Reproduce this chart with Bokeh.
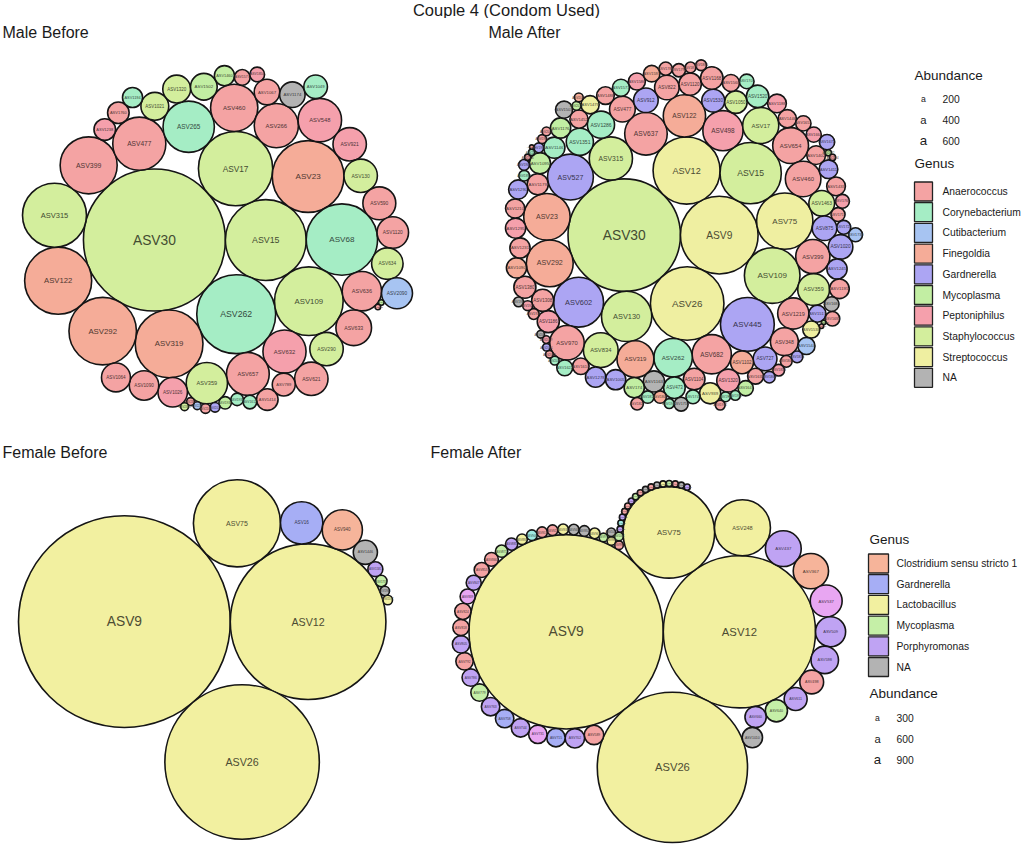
import math
from bokeh.plotting import figure
from bokeh.models import ColumnDataSource, Range1d, Label
from bokeh.layouts import column, row
from bokeh.embed import file_html
from bokeh.resources import INLINE
from bokeh.core.properties import value

FONT = "Liberation Sans"
TITLE = "Couple 4 (Condom Used)"

# ---------------- data ----------------
MALE_GENERA = ["Anaerococcus", "Corynebacterium", "Cutibacterium", "Finegoldia", "Gardnerella",
               "Mycoplasma", "Peptoniphilus", "Staphylococcus", "Streptococcus", "NA"]
MALE_COLORS = ["#F4A3A3", "#A5EDC5", "#A7C4F2", "#F5AC98", "#ACA5F3",
               "#C2EEA3", "#F5A0AC", "#D3EE9D", "#EFEFA1", "#B3B3B3"]
MALE_BREAKS = [200, 400, 600]

FEMALE_GENERA = ["Clostridium sensu stricto 1", "Gardnerella", "Lactobacillus", "Mycoplasma",
                 "Porphyromonas", "NA"]
FEMALE_COLORS = ["#F6B49A", "#A6AEF5", "#F2F0A0", "#C5EFA7", "#BFA3F3", "#B3B3B3"]
FEMALE_EXTRA_GENERA = ["Peptoniphilus", "Prevotella", "Corynebacterium"]
FEMALE_EXTRA_COLORS = ["#F4A3A3", "#E8A6F2", "#9FE9E1"]
FEMALE_BREAKS = [300, 600, 900]

MB_ASV = ["ASV30", "ASV15", "ASV262", "ASV17", "ASV23", "ASV68", "ASV109", "ASV319", "ASV292", "ASV122",
          "ASV315", "ASV399", "ASV477", "ASV265", "ASV460", "ASV548", "ASV266", "ASV632", "ASV657", "ASV359",
          "ASV636", "ASV633", "ASV290", "ASV621", "ASV921", "ASV590", "ASV130", "ASV1120", "ASV634", "ASV2090",
          "ASV1026", "ASV1090", "ASV1064", "ASV1021", "ASV1320", "ASV1502", "ASV1067", "ASV1174", "ASV1049", "ASV789",
          "ASV1414", "ASV1238", "ASV1760", "ASV1194", "ASV1460", "ASV1577", "ASV1612", "ASV1850", "ASV1931", "ASV1932",
          "ASV2011", "ASV2107", "ASV2205", "ASV2310", "ASV2398", "ASV2471", "ASV2503"]
MB_ABUND = [650, 211, 201, 178, 166, 164, 152, 148, 147, 145,
            132, 105, 91, 85, 72, 61, 63, 60, 59, 55,
            50, 41, 36, 36, 36, 35, 36, 32, 32, 31,
            28, 28, 27, 25, 25, 23, 21, 21, 18, 17,
            15, 15, 15, 13, 13, 8, 6, 7, 5, 5,
            3, 3, 2, 2, 2, 1, 1]
MB_GENUS = ["Staphylococcus", "Staphylococcus", "Corynebacterium", "Staphylococcus", "Finegoldia",
            "Corynebacterium", "Staphylococcus", "Finegoldia", "Finegoldia", "Finegoldia",
            "Staphylococcus", "Anaerococcus", "Anaerococcus", "Corynebacterium", "Anaerococcus",
            "Peptoniphilus", "Anaerococcus", "Peptoniphilus", "Anaerococcus", "Staphylococcus",
            "Anaerococcus", "Anaerococcus", "Staphylococcus", "Anaerococcus", "Peptoniphilus",
            "Anaerococcus", "Staphylococcus", "Anaerococcus", "Staphylococcus", "Cutibacterium",
            "Peptoniphilus", "Anaerococcus", "Anaerococcus", "Staphylococcus", "Staphylococcus",
            "Mycoplasma", "Anaerococcus", "NA", "Corynebacterium", "Anaerococcus",
            "Anaerococcus", "Peptoniphilus", "Anaerococcus", "Corynebacterium", "Mycoplasma",
            "Anaerococcus", "Corynebacterium", "Peptoniphilus", "Corynebacterium", "Mycoplasma",
            "Gardnerella", "Anaerococcus", "Cutibacterium", "Anaerococcus", "Staphylococcus",
            "Mycoplasma", "Anaerococcus"]

MA_ASV = ["ASV30", "ASV9", "ASV26", "ASV12", "ASV15", "ASV75", "ASV109", "ASV445", "ASV602", "ASV130",
          "ASV527", "ASV292", "ASV23", "ASV637", "ASV122", "ASV315", "ASV498", "ASV682", "ASV262", "ASV319",
          "ASV17", "ASV654", "ASV460", "ASV834", "ASV970", "ASV399", "ASV359", "ASV1219", "ASV348", "ASV1351",
          "ASV1286", "ASV477", "ASV1463", "ASV875", "ASV1020", "ASV912", "ASV822", "ASV727", "ASV1102", "ASV1320",
          "ASV1530", "ASV1050", "ASV1520", "ASV1120", "ASV1168", "ASV1186", "ASV1308", "ASV1380", "ASV1104", "ASV473",
          "ASV1163", "ASV939", "ASV1179", "ASV1095", "ASV1146", "ASV1176", "ASV174", "ASV1005", "ASV1278", "ASV1090",
          "ASV1231", "ASV1295", "ASV1245", "ASV1195", "ASV1210", "ASV1290", "ASV1402", "ASV1411", "ASV1433", "ASV1188",
          "ASV1446", "ASV1452", "ASV1479", "ASV1488", "ASV1503", "ASV1517", "ASV1538", "ASV1544", "ASV1560", "ASV1571",
          "ASV1586", "ASV1593", "ASV1610", "ASV1622", "ASV1635", "ASV1647", "ASV1651", "ASV1664", "ASV1672", "ASV1688",
          "ASV1693", "ASV1705", "ASV1719", "ASV1722", "ASV1738", "ASV1745", "ASV1759", "ASV1761", "ASV1780", "ASV1792",
          "ASV1804", "ASV1815", "ASV1827", "ASV1833", "ASV1846", "ASV1858", "ASV1869", "ASV1872", "ASV1885", "ASV1897",
          "ASV1903", "ASV1916", "ASV1924", "ASV1937", "ASV1941", "ASV1955", "ASV1968", "ASV1972", "ASV1986", "ASV1990",
          "ASV2004", "ASV2017", "ASV2023", "ASV2036", "ASV2048", "ASV2051", "ASV2069", "ASV2075", "ASV2082", "ASV2094",
          "ASV2106", "ASV2117", "ASV2129", "ASV2133", "ASV2146"]
MA_ABUND = [650, 310, 278, 231, 193, 163, 159, 149, 128, 130,
            108, 113, 111, 93, 92, 96, 83, 79, 76, 70,
            67, 66, 65, 62, 61, 60, 52, 50, 40, 38,
            38, 34, 34, 31, 31, 31, 31, 29, 27, 27,
            27, 26, 26, 26, 26, 25, 25, 25, 24, 24,
            23, 23, 23, 23, 23, 21, 21, 21, 21, 21,
            21, 21, 21, 20, 19, 19, 18, 18, 18, 18,
            17, 17, 17, 16, 15, 15, 15, 15, 15, 15,
            15, 14, 14, 13, 13, 12, 12, 12, 12, 11,
            11, 11, 10, 10, 10, 10, 10, 10, 9, 9,
            8, 8, 8, 7, 7, 7, 7, 6, 6, 6,
            6, 6, 5, 5, 5, 5, 5, 5, 5, 4,
            4, 4, 4, 4, 3, 3, 3, 3, 2, 2,
            2, 2, 1, 1, 1]
MA_GENUS = ["Staphylococcus", "Streptococcus", "Streptococcus", "Streptococcus", "Staphylococcus",
            "Streptococcus", "Staphylococcus", "Gardnerella", "Gardnerella", "Staphylococcus",
            "Gardnerella", "Finegoldia", "Finegoldia", "Anaerococcus", "Finegoldia",
            "Staphylococcus", "Peptoniphilus", "Anaerococcus", "Corynebacterium", "Finegoldia",
            "Staphylococcus", "Anaerococcus", "Anaerococcus", "Staphylococcus", "Anaerococcus",
            "Anaerococcus", "Staphylococcus", "Anaerococcus", "Anaerococcus", "Corynebacterium",
            "Corynebacterium", "Anaerococcus", "Staphylococcus", "Gardnerella", "Gardnerella",
            "Gardnerella", "Anaerococcus", "Gardnerella", "Finegoldia", "Peptoniphilus",
            "Gardnerella", "Staphylococcus", "Corynebacterium", "Anaerococcus", "Anaerococcus",
            "Peptoniphilus", "Anaerococcus", "Anaerococcus", "Anaerococcus", "Corynebacterium",
            "NA", "Streptococcus", "Anaerococcus", "Mycoplasma", "Corynebacterium",
            "Mycoplasma", "Mycoplasma", "Gardnerella", "Gardnerella", "Finegoldia",
            "Anaerococcus", "Peptoniphilus", "Gardnerella", "Anaerococcus", "Anaerococcus",
            "Gardnerella", "Anaerococcus", "Gardnerella", "Anaerococcus", "Peptoniphilus",
            "Anaerococcus", "Anaerococcus", "Streptococcus", "Anaerococcus", "NA",
            "Gardnerella", "Streptococcus", "Cutibacterium", "Anaerococcus", "Corynebacterium",
            "Peptoniphilus", "Finegoldia", "Anaerococcus", "Corynebacterium", "Anaerococcus",
            "Mycoplasma", "Anaerococcus", "Peptoniphilus", "Gardnerella", "NA",
            "Anaerococcus", "Corynebacterium", "Anaerococcus", "Gardnerella", "Cutibacterium",
            "Corynebacterium", "NA", "Peptoniphilus", "Anaerococcus", "Anaerococcus",
            "Finegoldia", "Corynebacterium", "Anaerococcus", "Gardnerella", "Anaerococcus",
            "Peptoniphilus", "Gardnerella", "Anaerococcus", "Anaerococcus", "Corynebacterium",
            "Gardnerella", "Anaerococcus", "Peptoniphilus", "NA", "Corynebacterium",
            "Corynebacterium", "Corynebacterium", "Anaerococcus", "Gardnerella", "Anaerococcus",
            "Anaerococcus", "Mycoplasma", "Finegoldia", "Corynebacterium", "Anaerococcus",
            "Gardnerella", "Peptoniphilus", "NA", "Mycoplasma", "Anaerococcus",
            "Anaerococcus", "Corynebacterium", "Anaerococcus", "Mycoplasma", "Anaerococcus"]

FB_ASV = ["ASV9", "ASV12", "ASV26", "ASV75", "ASV16", "ASV940", "ASV1446", "ASV1581", "ASV1733", "ASV1902", "ASV2077"]
FB_ABUND = [1000, 540, 532, 169, 40, 36, 13, 5, 3, 2, 2]
FB_GENUS = ["Lactobacillus", "Lactobacillus", "Lactobacillus", "Lactobacillus", "Gardnerella",
            "Clostridium sensu stricto 1", "NA", "Porphyromonas", "Mycoplasma", "NA", "Lactobacillus"]

FA_ASV = ["ASV9", "ASV12", "ASV26", "ASV75", "ASV248", "ASV437", "ASV367", "ASV537", "ASV509", "ASV598",
          "ASV498", "ASV611", "ASV640", "ASV660", "ASV1010", "ASV589", "ASV702", "ASV715", "ASV731", "ASV744",
          "ASV758", "ASV763", "ASV779", "ASV786", "ASV792", "ASV805", "ASV818", "ASV824", "ASV839", "ASV847",
          "ASV853", "ASV866", "ASV871", "ASV885", "ASV892", "ASV906", "ASV913", "ASV927", "ASV931", "ASV948",
          "ASV952", "ASV967", "ASV975", "ASV983", "ASV996", "ASV1004", "ASV1017", "ASV1023", "ASV1036", "ASV1048",
          "ASV1055", "ASV1069", "ASV1072", "ASV1081", "ASV1094", "ASV1108", "ASV1115", "ASV1127", "ASV1139", "ASV1142",
          "ASV1150", "ASV1163", "ASV1171"]
FA_ABUND = [1000, 614, 598, 222, 83, 34, 33, 27, 24, 20,
            15, 14, 13, 12, 11, 10, 10, 9, 9, 9,
            9, 9, 8, 8, 8, 8, 7, 7, 6, 6,
            6, 5, 4, 4, 3, 3, 3, 3, 3, 3,
            3, 3, 2, 2, 2, 2, 2, 1, 1, 1,
            1, 1, 1, 1, 1, 1, 1, 1, 1, 1,
            1, 1, 1]
FA_GENUS = ["Lactobacillus", "Lactobacillus", "Lactobacillus", "Lactobacillus", "Lactobacillus",
            "Porphyromonas", "Clostridium sensu stricto 1", "Prevotella", "Porphyromonas", "Porphyromonas",
            "Peptoniphilus", "Porphyromonas", "Mycoplasma", "Porphyromonas", "NA",
            "Peptoniphilus", "Porphyromonas", "Gardnerella", "Prevotella", "Porphyromonas",
            "Gardnerella", "Porphyromonas", "Mycoplasma", "Porphyromonas", "Peptoniphilus",
            "Porphyromonas", "Peptoniphilus", "Peptoniphilus", "Prevotella", "Porphyromonas",
            "Peptoniphilus", "Peptoniphilus", "Mycoplasma", "Porphyromonas", "Lactobacillus",
            "Corynebacterium", "Peptoniphilus", "Peptoniphilus", "Lactobacillus", "NA",
            "NA", "Lactobacillus", "Mycoplasma", "Lactobacillus", "Peptoniphilus",
            "Mycoplasma", "NA", "Porphyromonas", "Corynebacterium", "Porphyromonas",
            "Peptoniphilus", "Peptoniphilus", "Porphyromonas", "Mycoplasma", "Peptoniphilus",
            "NA", "Peptoniphilus", "NA", "Lactobacillus", "Mycoplasma",
            "Peptoniphilus", "NA", "Porphyromonas"]


# ---------------- circle packing (progressive front-chain layout) ----------------
def pack(radii):
    n = len(radii)
    xs = [0.0] * n
    ys = [0.0] * n
    if n < 2:
        return xs, ys
    xs[0] = -radii[0]
    xs[1] = radii[1]
    if n == 2:
        return xs, ys

    def place(ia, ib, ic):
        # circle ic tangent to ia and ib, on the right-hand side of ia -> ib
        ax, ay, ra = xs[ia], ys[ia], radii[ia]
        bx, by, rb = xs[ib], ys[ib], radii[ib]
        dx, dy = bx - ax, by - ay
        d = math.hypot(dx, dy)
        da, db = ra + radii[ic], rb + radii[ic]
        t = (da * da - db * db + d * d) / (2 * d)
        h = math.sqrt(max(0.0, da * da - t * t))
        ux, uy = dx / d, dy / d
        xs[ic] = ax + t * ux + h * uy
        ys[ic] = ay + t * uy - h * ux

    def hit(p, q):
        dx = xs[q] - xs[p]
        dy = ys[q] - ys[p]
        dr = radii[p] + radii[q]
        return 0.999 * dr * dr > dx * dx + dy * dy

    place(0, 1, 2)
    nxt = {0: 2, 2: 1, 1: 0}
    prv = {2: 0, 1: 2, 0: 1}
    chain = {0, 1, 2}
    guard = 0
    for i in range(3, n):
        m = min(sorted(chain), key=lambda q: xs[q] * xs[q] + ys[q] * ys[q])
        a, b = m, nxt[m]
        while guard < 500000:
            guard += 1
            place(a, b, i)
            j = nxt[b]
            s1 = 1
            found = False
            while j != b:
                if hit(j, i):
                    found = True
                    break
                j = nxt[j]
                s1 += 1
            if not found:
                break
            k = prv[a]
            s2 = 1
            while k != prv[j]:
                if hit(k, i):
                    break
                k = prv[k]
                s2 += 1
            if s1 < s2 or (s1 == s2 and radii[b] < radii[a]):
                q = nxt[a]
                while q != j:
                    chain.discard(q)
                    q = nxt[q]
                b = j
            else:
                q = nxt[k]
                while q != b:
                    chain.discard(q)
                    q = nxt[q]
                a = k
            nxt[a] = b
            prv[b] = a
        nxt[a] = i
        prv[i] = a
        nxt[i] = b
        prv[b] = i
        chain.add(i)
    return xs, ys


def darken(hexcol, f=0.32):
    h = hexcol.lstrip("#")
    rgb = [int(h[k:k + 2], 16) for k in (0, 2, 4)]
    return "#%02x%02x%02x" % tuple(int(c * f) for c in rgb)


def label_px(v, vmin, vmax):
    frac = max(0.0, (v - vmin)) / (vmax - vmin)
    return 2.3 * (1 + 5 * math.sqrt(frac))


def panel(names, abund, genus, cmap, title, W, H, title_xy, box, vlim):
    order = sorted(range(len(names)), key=lambda q: -abund[q])
    rad = [math.sqrt(abund[q] / math.pi) for q in order]
    xs, ys = pack(rad)
    xmin = min(x - r for x, r in zip(xs, rad))
    xmax = max(x + r for x, r in zip(xs, rad))
    ymin = min(y - r for y, r in zip(ys, rad))
    ymax = max(y + r for y, r in zip(ys, rad))
    bw, bh = box[2] - box[0], box[3] - box[1]
    s = min(bw / (xmax - xmin), bh / (ymax - ymin))
    bcx, bcy = (box[0] + box[2]) / 2, (box[1] + box[3]) / 2
    pcx, pcy = (xmin + xmax) / 2, (ymin + ymax) / 2
    x0 = pcx - bcx / s
    ytop = pcy + bcy / s
    p = figure(width=W, height=H, x_range=Range1d(x0, x0 + W / s),
               y_range=Range1d(ytop - H / s, ytop), output_backend="svg",
               toolbar_location=None, x_axis_type=None, y_axis_type=None,
               min_border=0, outline_line_color=None,
               background_fill_color="white", border_fill_color="white")
    fills = [cmap[genus[q]] for q in order]
    src = ColumnDataSource(dict(
        x=xs, y=ys, r=rad,
        name=[names[q] for q in order],
        fill=fills,
        tc=[darken(c) for c in fills],
        fs=["%.1fpx" % label_px(abund[q], vlim[0], vlim[1]) for q in order],
    ))
    p.circle(x="x", y="y", radius="r", fill_color="fill", line_color="#151515",
             line_width=1.6, source=src)
    p.text(x="x", y="y", text="name", text_font_size="fs", text_color="tc",
           text_align="center", text_baseline="middle", text_font=value(FONT), source=src)
    p.add_layout(Label(x=title_xy[0], y=H - title_xy[1], x_units="screen", y_units="screen",
                       text=title, text_font=FONT, text_font_size="16px", text_color="#1a1a1a",
                       text_baseline="middle", text_align="left"))
    return p


def legend_fig(W, H, sections, vlim):
    p = figure(width=W, height=H, x_range=Range1d(0, W), y_range=Range1d(0, H),
               output_backend="svg", toolbar_location=None, x_axis_type=None, y_axis_type=None,
               min_border=0, outline_line_color=None,
               background_fill_color="white", border_fill_color="white")
    for sec in sections:
        if sec["kind"] == "title":
            p.text(x=[sec["x"]], y=[H - sec["y"]], text=[sec["text"]], text_font=value(FONT),
                   text_font_size="13.5px", text_color="#1a1a1a", text_baseline="middle", text_align="left")
        elif sec["kind"] == "genus":
            labs, cols = sec["labels"], sec["colors"]
            ys = [H - (sec["y0"] + sec["step"] * q) for q in range(len(labs))]
            p.rect(x=[sec["x"] + sec["w"] / 2] * len(labs), y=ys, width=sec["w"], height=sec["h"],
                   fill_color=cols, line_color="#222222", line_width=1.3)
            p.text(x=[sec["lx"]] * len(labs), y=ys, text=labs, text_font=value(FONT),
                   text_font_size="10.3px", text_color="#1a1a1a", text_baseline="middle", text_align="left")
        elif sec["kind"] == "size":
            brks = sec["breaks"]
            ys = [H - (sec["y0"] + sec["step"] * q) for q in range(len(brks))]
            p.text(x=[sec["x"]] * len(brks), y=ys, text=["a"] * len(brks), text_font=value(FONT),
                   text_font_size=["%.1fpx" % label_px(b, vlim[0], vlim[1]) for b in brks],
                   text_color="#1a1a1a", text_baseline="middle", text_align="center")
            p.text(x=[sec["lx"]] * len(brks), y=ys, text=[str(b) for b in brks], text_font=value(FONT),
                   text_font_size="10.3px", text_color="#1a1a1a", text_baseline="middle", text_align="left")
    return p


male_map = dict(zip(MALE_GENERA, MALE_COLORS))
female_map = dict(zip(FEMALE_GENERA, FEMALE_COLORS))
female_map.update(dict(zip(FEMALE_EXTRA_GENERA, FEMALE_EXTRA_COLORS)))

male_lim = (min(MB_ABUND + MA_ABUND), max(MB_ABUND + MA_ABUND))
female_lim = (min(FB_ABUND + FA_ABUND), max(FB_ABUND + FA_ABUND))

# title strip
tfig = figure(width=1024, height=18, x_range=Range1d(0, 1024), y_range=Range1d(0, 18),
              output_backend="svg", toolbar_location=None, x_axis_type=None, y_axis_type=None,
              min_border=0, outline_line_color=None)
tfig.text(x=[506], y=[9], text=[TITLE], text_font=value(FONT), text_font_size="16.5px",
          text_color="#1a1a1a", text_align="center", text_baseline="middle")

mb = panel(MB_ASV, MB_ABUND, MB_GENUS, male_map, "Male Before", 480, 410, (2, 14), (22, 40, 412, 402), male_lim)
ma = panel(MA_ASV, MA_ABUND, MA_GENUS, male_map, "Male After", 418, 410, (8, 14), (25, 40, 382, 394), male_lim)
legm = legend_fig(126, 410, [
    dict(kind="title", x=16, y=57, text="Abundance"),
    dict(kind="size", x=25, lx=44, y0=80, step=21, breaks=MALE_BREAKS),
    dict(kind="title", x=16, y=145, text="Genus"),
    dict(kind="genus", x=16, w=18, h=19, lx=44, y0=173, step=20.7, labels=MALE_GENERA, colors=MALE_COLORS),
], male_lim)

fb = panel(FB_ASV, FB_ABUND, FB_GENUS, female_map, "Female Before", 424, 416, (2, 24), (18, 50, 392, 412), female_lim)
fa = panel(FA_ASV, FA_ABUND, FA_GENUS, female_map, "Female After", 438, 416, (6, 24), (23, 52, 426, 414), female_lim)
legf = legend_fig(162, 416, [
    dict(kind="title", x=7, y=111, text="Genus"),
    dict(kind="genus", x=6, w=20, h=19, lx=34, y0=135, step=20.7, labels=FEMALE_GENERA, colors=FEMALE_COLORS),
    dict(kind="title", x=7, y=265, text="Abundance"),
    dict(kind="size", x=15, lx=34, y0=289, step=21, breaks=FEMALE_BREAKS),
], female_lim)

layout = column(tfig, row(mb, ma, legm), row(fb, fa, legf))
open("out.html", "w").write(file_html(layout, INLINE))
